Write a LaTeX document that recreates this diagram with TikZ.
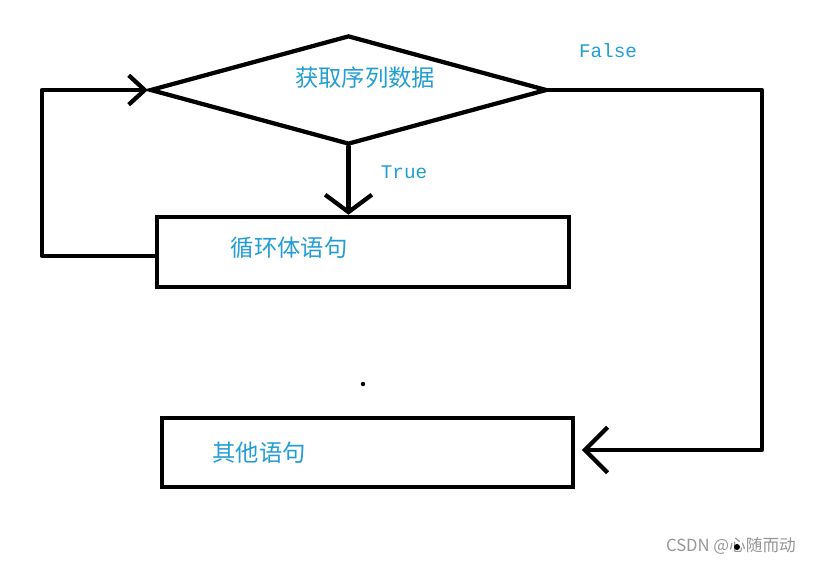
\documentclass[tikz,border=0pt]{standalone}
\usepackage{fontspec}
\usetikzlibrary{shapes.geometric,arrows.meta}
\newfontfamily\cjk{Noto Sans CJK SC}
\newfontfamily\monof{Liberation Mono}
\definecolor{lbl}{RGB}{35,158,212}
\definecolor{wm}{RGB}{150,150,150}
\begin{document}
\begin{tikzpicture}[x=0.75pt,y=-0.75pt,
  boxst/.style={draw,line width=3.4pt,rectangle,inner sep=0pt},
  decst/.style={draw,line width=3.2pt,diamond,inner sep=0pt,minimum width=297.75pt,minimum height=81.75pt},
  cjklbl/.style={text=lbl,font=\cjk\fontsize{17.5}{19}\selectfont,inner sep=0pt},
  monolbl/.style={text=lbl,font=\monof\fontsize{14.5}{16}\selectfont,inner sep=0pt},
  conn/.style={line width=3.2pt,line cap=round,line join=round},
  barbA/.style={-{Straight Barb[length=12pt,width=22pt,line width=3.2pt]}},
  barbB/.style={-{Straight Barb[length=13pt,width=35pt,line width=3.2pt]}},
  barbC/.style={-{Straight Barb[length=17pt,width=34pt,line width=3.2pt]}}]
\useasboundingbox (0,0) rectangle (813,564);
\node[decst] (d) at (348.5,90) {};
\node[cjklbl] (dt) at (365,78) {获取序列数据};
\node[boxst,minimum width=309pt,minimum height=52.5pt] (r1) at (363,252) {};
\node[cjklbl] (r1t) at (289,248) {循环体语句};
\node[boxst,minimum width=308.25pt,minimum height=51.75pt] (r2) at (367.5,452.5) {};
\node[cjklbl] (r2t) at (259,453) {其他语句};
\node[monolbl] (tl) at (404,172) {True};
\node[monolbl] (fl) at (608,51) {False};
\coordinate (lc) at (42,256);
\coordinate (rc) at (762,90);
\coordinate (rb) at (762,450);
\draw[conn,barbA] (r1.west |- lc) -- (lc) |- (d.west);
\draw[conn,barbB] (d.south) -- (d.south |- r1.north);
\draw[conn,barbC,shorten >=5pt] (d.east) -- (rc) -- (rb) -- (r2.east |- rb);
\fill (363,384) circle (2.2);
\node[text=wm,font=\cjk\fontsize{12.5}{14}\selectfont,inner sep=0pt] (wmk) at (731,546) {CSDN @心随而动};
\fill (737,547) circle (3);
\end{tikzpicture}
\end{document}
